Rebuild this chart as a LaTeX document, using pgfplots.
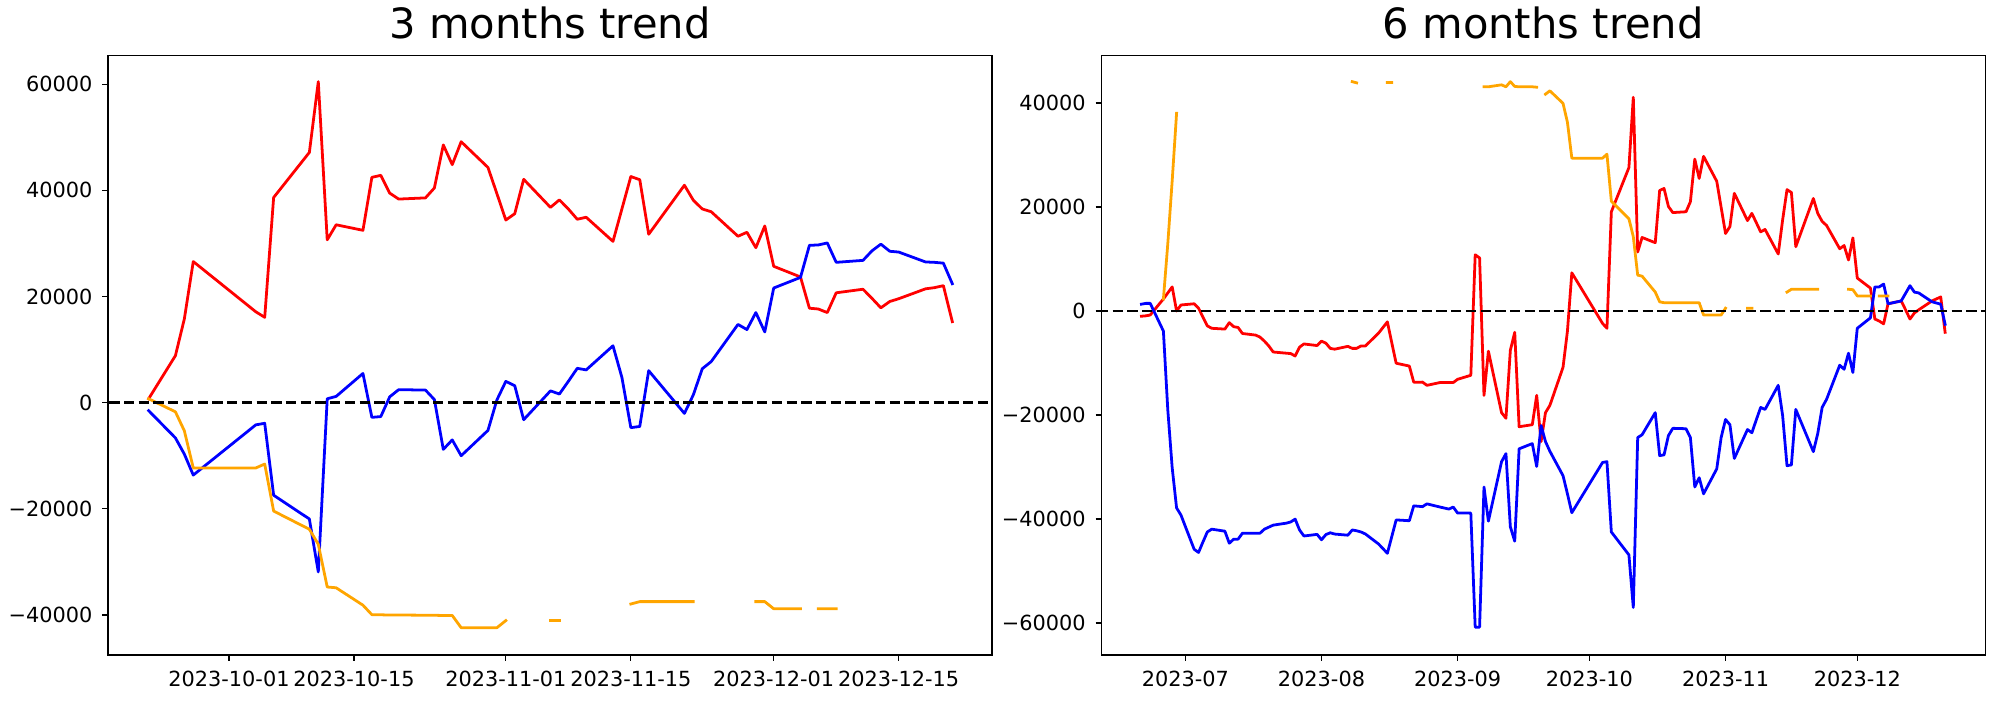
\documentclass[border=0pt]{standalone}
\usepackage{fontspec}
\setmainfont{DejaVu Sans}
\usepackage{pgfplots}
\pgfplotsset{compat=1.18}
\definecolor{mplorange}{HTML}{FFA500}
\definecolor{mplred}{HTML}{FF0000}
\definecolor{mplblue}{HTML}{0000FF}

\pgfplotsset{
  trendaxis/.style={
    scale only axis, width=636.5pt, height=431.6pt, anchor=south west,
    axis line style={line width=0.8pt},
    tick align=outside, tick pos=left,
    major tick length=4pt,
    major tick style={black, line width=0.8pt},
    tick label style={font=\fontsize{15}{18}\selectfont, inner sep=0pt},
    xticklabel style={anchor=north, yshift=-7.2pt},
    yticklabel style={anchor=east, xshift=-7pt},
    title style={font=\fontsize{30}{36}\selectfont, at={(0.5,1)}, anchor=base, yshift=6pt, inner sep=0pt},
    unbounded coords=jump,
    scaled ticks=false,
    every axis plot/.append style={line width=2pt, line join=round, line cap=rect, mark=none},
  },
  zeroline/.style={black, line width=2pt, dash pattern=on 7.4pt off 3.2pt, line cap=butt},
}

\begin{document}
\begin{tikzpicture}
\useasboundingbox (0,0) rectangle (1440pt,504pt);

% ---------------- 3 months ----------------
\begin{axis}[trendaxis, at={(77.76pt,32.4pt)},
  title={3 months trend},
  xmin=-13.55, xmax=85.45, ymin=-47530, ymax=65410,
  xtick={0,14,31,45,61,75},
  xticklabels={2023-10-01,2023-10-15,2023-11-01,2023-11-15,2023-12-01,2023-12-15},
  ytick={-40000,-20000,0,20000,40000,60000},
  yticklabels={−40000,−20000,0,20000,40000,60000},
]
\addplot[mplred] coordinates {
(-9,745) (-6,8866) (-5,15794) (-4,26597) (3,17135) (4,16092) (5,38666) (9,47159) (10,60494) (11,30694) (12,33525)
(15,32482) (16,42465) (17,42838) (18,39485) (19,38368) (22,38591) (23,40454) (24,48574) (25,44849) (26,49170)
(29,44328) (30,39400) (31,34419) (32,35611) (33,42093) (36,36803) (37,38219) (38,36505) (39,34568) (40,34940)
(43,30396) (44,36505) (45,42614) (46,42018) (47,31737) (51,40975) (52,38144) (53,36505) (54,35984)
(57,31365) (58,32110) (59,29204) (60,33302) (61,25703) (64,23691) (65,17806) (66,17657) (67,16986) (68,20711)
(71,21382) (72,19668) (73,17880) (74,19072) (75,19594) (78,21456) (79,21680) (80,22052) (81,15273)
};
\addplot[mplblue] coordinates {
(-9,-1490) (-6,-6631) (-5,-9685) (-4,-13634) (3,-4172) (4,-3874) (5,-17433) (9,-21903) (10,-31886) (11,745) (12,1192)
(15,5513) (16,-2757) (17,-2608) (18,1118) (19,2459) (22,2384) (23,596) (24,-8791) (25,-7003) (26,-9983)
(29,-5215) (30,522) (31,4023) (32,3204) (33,-3204) (36,2235) (37,1639) (38,4023) (39,6482) (40,6184)
(43,10728) (44,4768) (45,-4694) (46,-4470) (47,6035) (51,-2012) (52,1490) (53,6407) (54,7748)
(57,14751) (58,13783) (59,16986) (60,13336) (61,21605) (64,23617) (65,29651) (66,29726) (67,30098) (68,26448)
(71,26820) (72,28608) (73,29875) (74,28534) (75,28385) (78,26522) (79,26450) (80,26299) (81,22425)
};
\addplot[mplorange] coordinates {
(-9,745) (-6,-1714) (-5,-5290) (-4,-12293) (3,-12293) (4,-11548) (5,-20413) (9,-23840) (10,-26671) (11,-34717) (12,-34866)
(15,-38144) (16,-39932) (17,-39960) (18,-39990) (19,-40000) (22,-40030) (23,-40050) (24,-40080) (25,-40080) (26,-42390)
(29,-42390) (30,-42390) (31,-41050) (32,nan) (33,nan) (36,-41050) (37,-41050) (38,nan) (44,nan)
(45,-37920) (46,-37474) (47,-37474) (51,-37474) (52,-37474) (53,nan) (58,nan)
(59,-37474) (60,-37474) (61,-38815) (64,-38815) (65,nan) (66,-38815) (67,-38815) (68,-38815) (71,nan) (81,nan)
};
\addplot[zeroline] coordinates {(-20,0) (90,0)};
\end{axis}

% ---------------- 6 months ----------------
\begin{axis}[trendaxis, at={(792.9pt,32.4pt)},
  title={6 months trend},
  xmin=-19.15, xmax=182.15, ymin=-66160, ymax=49130,
  xtick={0,31,62,92,123,153},
  xticklabels={2023-07,2023-08,2023-09,2023-10,2023-11,2023-12},
  ytick={-60000,-40000,-20000,0,20000,40000},
  yticklabels={−60000,−40000,−20000,0,20000,40000},
]
\addplot[mplred] coordinates {
(-10,-1004) (-9,-927) (-8,-773) (-5,2318) (-4,3477) (-3,4636) (-2,0) (-1,1159)
(2,1391) (3,541) (4,-1159) (5,-2859) (6,-3323) (9,-3477) (10,-2241) (11,-3014) (12,-3168) (13,-4327)
(16,-4636) (17,-5023) (18,-5795) (19,-6722) (20,-7882) (23,-8113) (24,-8190) (25,-8654) (26,-6954) (27,-6336)
(30,-6645) (31,-5795) (32,-6182) (33,-7186) (34,-7341) (37,-6800) (38,-7186) (39,-7186) (40,-6722) (41,-6722)
(44,-4250) (46,-2086) (47,-6100) (48,-10045) (51,-10586) (52,-13677) (53,-13700) (54,-13677) (55,-14295)
(58,-13754) (59,-13754) (60,-13754) (61,-13754) (62,-13136) (65,-12363) (66,10818) (67,10200) (68,-16227) (69,-7727)
(72,-19549) (73,-20631) (74,-7572) (75,-4095) (76,-22254) (79,-21867) (80,-16227) (81,-25113) (82,-19549) (83,-18158)
(86,-10818) (87,-3864) (88,7341) (95,-2395) (96,-3323) (97,19086) (101,27585) (102,41108) (103,11359) (104,14140)
(107,13136) (108,23181) (109,23567) (110,20090) (111,18931) (114,19086) (115,21017) (116,29208) (117,25499) (118,29749)
(121,24958) (122,19936) (123,14913) (124,16227) (125,22640) (128,17386) (129,18777) (130,17000) (131,15222) (132,15686)
(135,10972) (136,17500) (137,23336) (138,22795) (139,12363) (143,21636) (144,18777) (145,17231) (146,16459)
(149,11977) (150,12595) (151,9813) (152,14063) (153,6336) (156,4404) (157,-1545) (158,-1932) (159,-2473) (160,1391)
(163,1932) (164,232) (165,-1545) (166,-386) (167,232) (170,1932) (171,2318) (172,2704) (173,-4095)
};
\addplot[mplblue] coordinates {
(-10,1314) (-9,1468) (-8,1468) (-5,-3864) (-4,-19000) (-3,-30135) (-2,-37862) (-1,-39253)
(2,-45821) (3,-46439) (4,-44430) (5,-42499) (6,-41958) (9,-42344) (10,-44662) (11,-43889) (12,-43889) (13,-42730)
(16,-42730) (17,-42730) (18,-41958) (19,-41571) (20,-41185) (23,-40799) (24,-40567) (25,-40026) (26,-42112) (27,-43271)
(30,-42962) (31,-44000) (32,-43000) (33,-42653) (34,-42900) (37,-43117) (38,-42112) (39,-42267) (40,-42500) (41,-42885)
(44,-44816) (46,-46594) (47,-43400) (48,-40180) (51,-40335) (52,-37476) (53,-37550) (54,-37630) (55,-37089)
(58,-37707) (59,-37900) (60,-38094) (61,-37707) (62,-38867) (65,-38867) (66,-60811) (67,-60811) (68,-33844) (69,-40412)
(72,-28976) (73,-27431) (74,-41494) (75,-44276) (76,-26504) (79,-25499) (80,-29904) (81,-22022) (82,-25113) (83,-26967)
(86,-31681) (87,-35158) (88,-38790) (95,-29131) (96,-28976) (97,-42499) (101,-46903) (102,-57025) (103,-24340) (104,-23799)
(107,-19549) (108,-27817) (109,-27662) (110,-23954) (111,-22563) (114,-22640) (115,-24340) (116,-33844) (117,-32067) (118,-35158)
(121,-30368) (122,-24340) (123,-20863) (124,-21867) (125,-28358) (128,-22795) (129,-23413) (130,-20940) (131,-18545) (132,-18931)
(135,-14295) (136,-20090) (137,-29749) (138,-29594) (139,-18931) (143,-27045) (144,-23567) (145,-18545) (146,-17000)
(149,-10431) (150,-11204) (151,-8113) (152,-11822) (153,-3323) (156,-1314) (157,4636) (158,4636) (159,5177) (160,1391)
(163,1932) (164,3400) (165,4868) (166,3632) (167,3477) (170,1777) (171,1545) (172,1314) (173,-2550)
};
\addplot[mplorange] coordinates {
(-10,nan) (-5,2300) (-4,12930) (-3,25020) (-2,38025) (-1,nan)
(37,nan) (38,44109) (39,43881) (40,nan)
(44,nan) (46,43957) (47,43957) (48,nan)
(67,nan) (68,43120) (69,43120) (72,43501) (73,43120) (74,44109) (75,43196) (76,43120) (79,43120) (80,43044) (81,nan)
(82,41700) (83,42350) (86,39940) (87,36300) (88,29400) (95,29400) (96,30160) (97,21120) (101,17750) (102,14300) (103,6900) (104,6700)
(107,3640) (108,1760) (109,1600) (110,1600) (111,1600) (114,1600) (115,1600) (116,1600) (117,1600) (118,-770)
(121,-770) (122,-770) (123,540) (124,nan) (128,540) (129,540) (130,nan)
(137,3640) (138,4180) (139,4180) (143,4180) (144,4180) (145,nan)
(151,4180) (152,4100) (153,2900) (156,2900) (157,nan) (158,2900) (159,2900) (160,2900) (163,nan)
};
\addplot[zeroline] coordinates {(-30,0) (190,0)};
\end{axis}
\end{tikzpicture}
\end{document}
